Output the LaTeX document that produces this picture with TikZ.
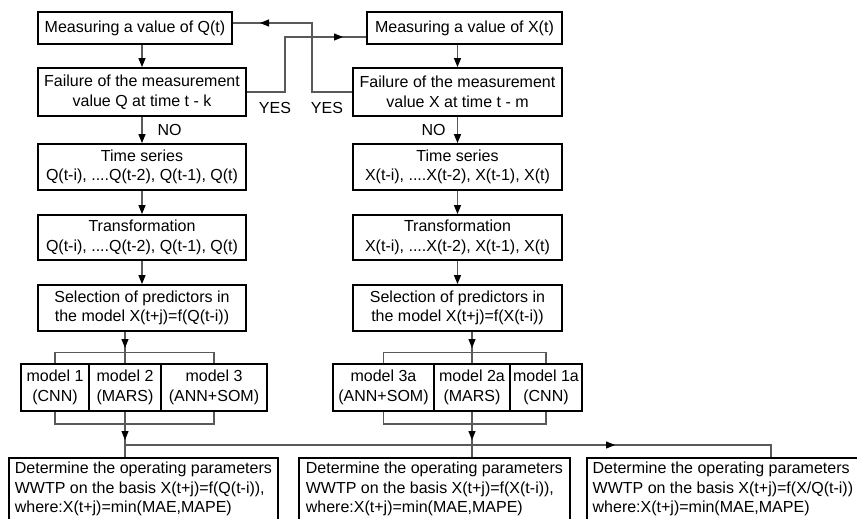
\documentclass[tikz,border=0pt]{standalone}
\usepackage{fontspec}
\setmainfont{Liberation Sans}
\usetikzlibrary{arrows.meta}
\begin{document}
\begin{tikzpicture}[x=1pt,y=-1pt,
  box/.style={draw=black, line width=1.8pt, rectangle, inner sep=0pt, align=center,
    font=\fontsize{16}{19.5}\selectfont},
  bbox/.style={draw=black, line width=1.8pt, rectangle, inner sep=0pt, align=left,
    font=\fontsize{16}{19.5}\selectfont, anchor=north west, minimum height=62pt},
  conn/.style={draw=black!65, line width=1.2pt},
  arr/.style={conn, -{Triangle[length=9pt,width=7pt,color=black]}},
  lbl/.style={font=\fontsize{16}{19.5}\selectfont, inner sep=0pt}]
\useasboundingbox (0,0) rectangle (857,519);
% left column
\node[box, minimum width=194pt, minimum height=32pt] (Q1) at (135,28) {Measuring a value of Q(t)};
\node[box, minimum width=208pt, minimum height=48pt] (Q2) at (142,92) {Failure of the measurement\\value Q at time t - k};
\node[box, minimum width=208pt, minimum height=46pt] (Q3) at (142,167) {Time series\\Q(t-i), ....Q(t-2), Q(t-1), Q(t)};
\node[box, minimum width=208pt, minimum height=45pt] (Q4) at (142,237.5) {Transformation\\Q(t-i), ....Q(t-2), Q(t-1), Q(t)};
\node[box, minimum width=208pt, minimum height=46pt] (Q5) at (142,308) {Selection of predictors in\\the model X(t+j)=f(Q(t-i))};
% right column
\node[box, minimum width=195pt, minimum height=32pt] (X1) at (464.5,28) {Measuring a value of X(t)};
\node[box, minimum width=209pt, minimum height=48pt] (X2) at (457.5,92) {Failure of the measurement\\value X at time t - m};
\node[box, minimum width=209pt, minimum height=46pt] (X3) at (457.5,167) {Time series\\X(t-i), ....X(t-2), X(t-1), X(t)};
\node[box, minimum width=209pt, minimum height=45pt] (X4) at (457.5,237.5) {Transformation\\X(t-i), ....X(t-2), X(t-1), X(t)};
\node[box, minimum width=209pt, minimum height=46pt] (X5) at (457.5,308) {Selection of predictors in\\the model X(t+j)=f(X(t-i))};
% models
\node[box, minimum width=68pt, minimum height=47pt] (m1) at (55,387.5) {model 1\\(CNN)};
\node[box, minimum width=72pt, minimum height=47pt] (m2) at (125,387.5) {model 2\\(MARS)};
\node[box, minimum width=106pt, minimum height=47pt] (m3) at (214,387.5) {model 3\\(ANN+SOM)};
\node[box, minimum width=101pt, minimum height=47pt] (m3a) at (383.5,387.5) {model 3a\\(ANN+SOM)};
\node[box, minimum width=76pt, minimum height=47pt] (m2a) at (472,387.5) {model 2a\\(MARS)};
\node[box, minimum width=72pt, minimum height=47pt] (m1a) at (546,387.5) {model 1a\\(CNN)};
% bottom boxes
\node[bbox, minimum width=269pt] (B1) at (8,457) {Determine the operating parameters\\WWTP on the basis X(t+j)=f(Q(t-i)),\\where:X(t+j)=min(MAE,MAPE)};
\node[bbox, minimum width=271pt] (B2) at (298,457) {Determine the operating parameters\\WWTP on the basis X(t+j)=f(X(t-i)),\\where:X(t+j)=min(MAE,MAPE)};
\node[bbox, minimum width=272pt] (B3) at (586,457) {Determine the operating parameters\\WWTP on the basis X(t+j)=f(X/Q(t-i))\\where:X(t+j)=min(MAE,MAPE)};
% labels
\node[lbl] (yes1) at (275,107.5) {YES};
\node[lbl] (yes2) at (327,107.5) {YES};
\node[lbl] (no1) at (169.5,130) {NO};
\node[lbl] (no2) at (433.5,130) {NO};
% vertical arrows
\draw[arr] (Q1.south -| Q2.north) -- (Q2.north);
\draw[arr] (Q2) -- (Q3);
\draw[arr] (Q3) -- (Q4);
\draw[arr] (Q4) -- (Q5);
\draw[arr] (X1.south -| X2.north) -- (X2.north);
\draw[arr] (X2) -- (X3);
\draw[arr] (X3) -- (X4);
\draw[arr] (X4) -- (X5);
% YES connectors
\coordinate (c1) at (285,37);
\coordinate (t1) at (343,37);
\draw[conn] (Q2.east) -| (c1) -- (c1 -| X1.west);
\draw[arr] (c1) -- (t1);
\coordinate (c2) at (312,23);
\coordinate (t2) at (260,23);
\draw[conn] (X2.west) -| (c2) -- (c2 -| Q1.east);
\draw[arr] (c2) -- (t2);
% to models (left)
\coordinate (tq) at (125,348);
\draw[conn] (Q5.south -| m2.north) -- (m2.north);
\draw[arr] (Q5.south -| m2.north) -- (tq);
\draw[conn] (m1.north) -- ++(0,-11) -| (m3.north);
\draw[conn] (m1.south) -- ++(0,12) -| (m3.south);
% to models (right)
\coordinate (tx) at (472,348);
\draw[conn] (X5.south -| m2a.north) -- (m2a.north);
\draw[arr] (X5.south -| m2a.north) -- (tx);
\draw[conn] (m3a.north) -- ++(0,-11) -| (m1a.north);
\draw[conn] (m3a.south) -- ++(0,12) -| (m1a.south);
% to bottom boxes
\coordinate (h1) at (125,445);
\coordinate (h3) at (771,445);
\coordinate (tb1) at (125,440);
\coordinate (tb2) at (472,440);
\coordinate (tb3) at (615,445);
\draw[conn] (m2.south) -- (m2.south |- B1.north);
\draw[arr] (m2.south) -- (tb1);
\draw[conn] (m2a.south) -- (m2a.south |- B2.north);
\draw[arr] (m2a.south) -- (tb2);
\draw[conn] (h1) -- (h3) -- (h3 |- B3.north);
\draw[arr] (h1) -- (tb3);
\end{tikzpicture}
\end{document}
